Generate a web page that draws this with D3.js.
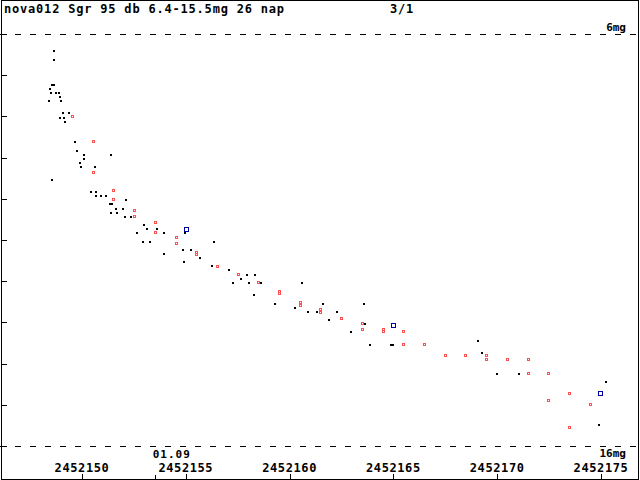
<!DOCTYPE html>
<html>
<head>
<meta charset="utf-8">
<script src="https://cdn.jsdelivr.net/npm/d3@7"></script>
<style>
  body { margin: 0; background: #fff; }
  svg { display: block; }
  text { font-family: "DejaVu Sans Mono", monospace; font-weight: bold; fill: #000; }
</style>
</head>
<body>
<svg id="chart"></svg>
<script>
const width = 640;
const height = 480;

const title = 'nova012 Sgr 95 db 6.4-15.5mg 26 nap';
const page = '3/1';
const xTicks = [2452150, 2452155, 2452160, 2452165, 2452170, 2452175];
const dateTick = 2452153.5;   // 01.09
const dateLabel = '01.09';
const magTicks = [6, 7, 8, 9, 10, 11, 12, 13, 14, 15, 16];

// visual estimates [JD, mag]
const blackObs = [
  [2452148.65, 6.41], [2452148.65, 6.63], [2452148.55, 7.24], [2452148.65, 7.24],
  [2452148.46, 7.33], [2452148.51, 7.43], [2452148.75, 7.43], [2452148.89, 7.43],
  [2452148.94, 7.53], [2452148.41, 7.63], [2452148.99, 7.63], [2452149.08, 7.92],
  [2452149.37, 7.92], [2452148.94, 8.04], [2452149.13, 8.04], [2452149.18, 8.14],
  [2452149.66, 8.62], [2452149.76, 8.84], [2452150.10, 8.94], [2452150.10, 9.03],
  [2452151.38, 8.94], [2452149.90, 9.13], [2452149.95, 9.23], [2452150.63, 9.23],
  [2452148.55, 9.54], [2452150.43, 9.83], [2452150.67, 9.83], [2452150.67, 9.93],
  [2452150.92, 9.93], [2452151.16, 9.93], [2452152.12, 10.03], [2452151.35, 10.13],
  [2452151.45, 10.13], [2452151.64, 10.25], [2452151.98, 10.25], [2452151.40, 10.34],
  [2452151.69, 10.34], [2452152.07, 10.44], [2452152.36, 10.44], [2452152.99, 10.64],
  [2452153.13, 10.73], [2452153.61, 10.73], [2452152.65, 10.83], [2452153.95, 10.83],
  [2452154.96, 10.83], [2452152.94, 11.05], [2452153.28, 11.05], [2452156.36, 11.05],
  [2452154.87, 11.24], [2452155.25, 11.24], [2452153.95, 11.34], [2452155.68, 11.44],
  [2452154.91, 11.53], [2452156.26, 11.63], [2452157.08, 11.73], [2452157.95, 11.85],
  [2452158.33, 11.85], [2452157.66, 11.95], [2452157.27, 12.04], [2452158.04, 12.04],
  [2452158.62, 12.04], [2452160.60, 12.04], [2452158.29, 12.33], [2452159.30, 12.55],
  [2452161.61, 12.55], [2452163.58, 12.55], [2452160.26, 12.65], [2452160.89, 12.75],
  [2452161.32, 12.75], [2452162.28, 12.75], [2452161.90, 12.94], [2452163.63, 13.04],
  [2452162.96, 13.23], [2452163.87, 13.55], [2452164.88, 13.55], [2452164.98, 13.55],
  [2452169.08, 13.45], [2452169.27, 13.74], [2452169.99, 14.25], [2452171.05, 14.25],
  [2452175.24, 14.45], [2452174.90, 15.50]
];

const redObs = [
  [2452149.52, 7.99], [2452150.53, 8.60], [2452150.53, 9.35], [2452151.49, 9.79],
  [2452151.49, 10.00], [2452152.50, 10.27], [2452152.50, 10.42], [2452153.52, 10.56],
  [2452153.52, 10.81], [2452154.53, 10.93], [2452154.53, 11.07], [2452155.49, 11.29],
  [2452155.49, 11.34], [2452156.50, 11.63], [2452157.51, 11.83], [2452158.48, 12.02],
  [2452159.49, 12.24], [2452159.49, 12.29], [2452160.50, 12.50], [2452160.50, 12.58],
  [2452161.46, 12.67], [2452161.46, 12.75], [2452162.48, 12.89], [2452163.49, 13.01],
  [2452163.49, 13.16], [2452164.50, 13.16], [2452164.50, 13.21], [2452165.46, 13.21],
  [2452165.46, 13.52], [2452166.47, 13.52], [2452167.49, 13.79], [2452168.45, 13.79],
  [2452169.46, 13.79], [2452169.46, 13.89], [2452170.47, 13.89], [2452171.48, 13.89],
  [2452171.48, 14.23], [2452172.45, 14.23], [2452172.45, 14.88], [2452173.46, 14.71],
  [2452174.47, 14.98], [2452173.46, 15.54]
];

const blueObs = [
  [2452155.01, 10.73], [2452164.98, 13.06], [2452174.95, 14.71]
];

const svg = d3.select('#chart')
  .attr('width', width)
  .attr('height', height)
  .attr('shape-rendering', 'crispEdges');

const x = d3.scaleLinear().domain([2452150, 2452175]).range([82, 601]);
const y = d3.scaleLinear().domain([6, 16]).range([34, 446]);

// frame
svg.append('rect')
  .attr('x', 1.5).attr('y', 0.5)
  .attr('width', 637).attr('height', 478.5)
  .attr('fill', 'none').attr('stroke', '#000');

// title
svg.append('text').attr('x', 4).attr('y', 13)
  .attr('font-size', 12).attr('letter-spacing', 0.8).text(title);
svg.append('text').attr('x', 390).attr('y', 13)
  .attr('font-size', 12).attr('letter-spacing', 0.8).text(page);

// magnitude ticks on the left
svg.selectAll('line.ytick')
  .data(magTicks)
  .join('line')
  .attr('class', 'ytick')
  .attr('x1', 1).attr('x2', 7)
  .attr('y1', d => Math.round(y(d)) + 0.5)
  .attr('y2', d => Math.round(y(d)) + 0.5)
  .attr('stroke', '#000');

// dashed limit lines (6 and 16 mag)
const limits = [6, 16];
svg.selectAll('line.limit')
  .data(limits)
  .join('line')
  .attr('class', 'limit')
  .attr('x1', 0).attr('x2', 637)
  .attr('y1', d => Math.round(y(d)) + 0.5)
  .attr('y2', d => Math.round(y(d)) + 0.5)
  .attr('stroke', '#000')
  .attr('stroke-dasharray', '6,9');

svg.selectAll('text.limit')
  .data(limits)
  .join('text')
  .attr('class', 'limit')
  .attr('x', 626)
  .attr('y', d => d == 6 ? y(d) - 3 : y(d) + 11)
  .attr('text-anchor', 'end')
  .attr('font-size', 11)
  .text(d => d + 'mg');

// bottom axis
svg.selectAll('line.xtick')
  .data(xTicks)
  .join('line')
  .attr('class', 'xtick')
  .attr('x1', d => Math.round(x(d)) + 0.5)
  .attr('x2', d => Math.round(x(d)) + 0.5)
  .attr('y1', 474).attr('y2', 479)
  .attr('stroke', '#000');

svg.selectAll('text.xtick')
  .data(xTicks)
  .join('text')
  .attr('class', 'xtick')
  .attr('x', d => x(d))
  .attr('y', 472)
  .attr('text-anchor', 'middle')
  .attr('font-size', 12)
  .attr('letter-spacing', 0.6)
  .text(d => d);

svg.append('line')
  .attr('x1', Math.round(x(dateTick)) + 0.5)
  .attr('x2', Math.round(x(dateTick)) + 0.5)
  .attr('y1', 475).attr('y2', 479)
  .attr('stroke', '#000');
svg.append('text')
  .attr('x', x(dateTick) - 2)
  .attr('y', 458)
  .attr('font-size', 11)
  .attr('letter-spacing', 1)
  .text(dateLabel);

// points
svg.selectAll('rect.red')
  .data(redObs)
  .join('rect')
  .attr('class', 'red')
  .attr('x', d => Math.round(x(d[0])) - 0.5)
  .attr('y', d => Math.round(y(d[1])) - 0.5)
  .attr('width', 2).attr('height', 2)
  .attr('fill', '#fff')
  .attr('stroke', '#ff5050');

svg.selectAll('rect.black')
  .data(blackObs)
  .join('rect')
  .attr('class', 'black')
  .attr('x', d => Math.round(x(d[0])) - 1)
  .attr('y', d => Math.round(y(d[1])) - 1)
  .attr('width', 2).attr('height', 2)
  .attr('fill', '#000');

svg.selectAll('rect.blue')
  .data(blueObs)
  .join('rect')
  .attr('class', 'blue')
  .attr('x', d => Math.round(x(d[0])) - 1.5)
  .attr('y', d => Math.round(y(d[1])) - 1.5)
  .attr('width', 4).attr('height', 4)
  .attr('fill', 'none')
  .attr('stroke', '#0000a0');
</script>
</body>
</html>
